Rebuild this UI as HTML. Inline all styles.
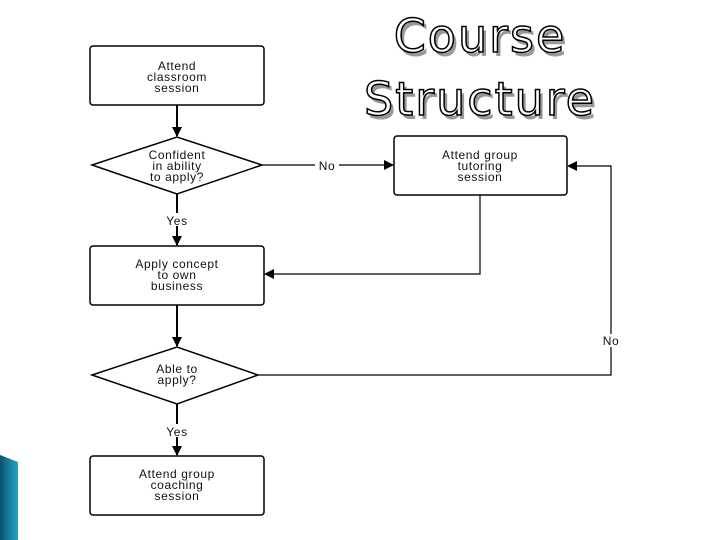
<!DOCTYPE html>
<html><head><meta charset="utf-8"><style>
html,body{margin:0;padding:0;background:#fff;}
svg{display:block;}
.t{font-family:"Liberation Sans",sans-serif;font-size:12px;letter-spacing:0.6px;fill:#111;text-anchor:middle;}
.ti{font-family:"DejaVu Sans","Liberation Sans",sans-serif;font-size:46px;letter-spacing:2px;text-anchor:middle;}
</style></head><body>
<svg width="720" height="540" viewBox="0 0 720 540">
<defs>
<linearGradient id="g" x1="0" y1="0" x2="1" y2="0">
<stop offset="0" stop-color="#0d4f6e"/><stop offset="0.6" stop-color="#1a86a8"/><stop offset="1" stop-color="#2a9fbf"/>
</linearGradient>
<marker id="a" markerWidth="10" markerHeight="10" refX="9" refY="5" orient="auto" markerUnits="userSpaceOnUse">
<path d="M0,0 L10,5 L0,10 z" fill="#000"/></marker>
</defs>
<polygon points="0,455 18,462 18,540 0,540" fill="url(#g)"/>
<!-- title -->
<g class="ti">
<text x="483" y="56" fill="#999">Course</text>
<text x="480" y="52" fill="#fff" stroke="#000" stroke-width="1.5">Course</text>
<text x="483" y="119" fill="#999">Structure</text>
<text x="480" y="115" fill="#fff" stroke="#000" stroke-width="1.5">Structure</text>
</g>
<g fill="#fff" stroke="#000" stroke-width="1.5">
<rect x="90" y="46" width="174" height="59" rx="3"/>
<polygon points="92,165 177,137 262,165 177,194"/>
<rect x="394" y="136" width="173" height="59" rx="3"/>
<rect x="90" y="246" width="174" height="59" rx="3"/>
<polygon points="92,375 177,347 258,375 177,404"/>
<rect x="90" y="456" width="174" height="59" rx="3"/>
</g>
<g fill="none" stroke="#000" stroke-width="2">
<line x1="177" y1="105" x2="177" y2="136" marker-end="url(#a)"/>
<line x1="177" y1="194" x2="177" y2="245" marker-end="url(#a)"/>
<line x1="177" y1="305" x2="177" y2="346" marker-end="url(#a)"/>
<line x1="177" y1="404" x2="177" y2="455" marker-end="url(#a)"/>
</g>
<g fill="none" stroke="#000" stroke-width="1.2">
<line x1="262" y1="165" x2="393" y2="165" marker-end="url(#a)"/>
<polyline points="480,195 480,274 265,274" marker-end="url(#a)"/>
<polyline points="258,375 611,375 611,166 568,166" marker-end="url(#a)"/>
</g>
<g fill="#fff">
<rect x="163" y="213" width="30" height="13"/>
<rect x="163" y="424" width="30" height="13"/>
<rect x="315" y="158" width="24" height="13"/>
<rect x="598" y="334" width="26" height="13"/>
</g>
<g class="t">
<text x="177" y="70">Attend</text><text x="177" y="81">classroom</text><text x="177" y="92">session</text>
<text x="177" y="159">Confident</text><text x="177" y="170">in ability</text><text x="177" y="181">to apply?</text>
<text x="480" y="159">Attend group</text><text x="480" y="170">tutoring</text><text x="480" y="181">session</text>
<text x="177" y="268">Apply concept</text><text x="177" y="279">to own</text><text x="177" y="290">business</text>
<text x="177" y="373">Able to</text><text x="177" y="384">apply?</text>
<text x="177" y="478">Attend group</text><text x="177" y="489">coaching</text><text x="177" y="500">session</text>
<text x="177" y="225">Yes</text>
<text x="177" y="436">Yes</text>
<text x="327" y="170">No</text>
<text x="611" y="345">No</text>
</g>
</svg>
</body></html>
